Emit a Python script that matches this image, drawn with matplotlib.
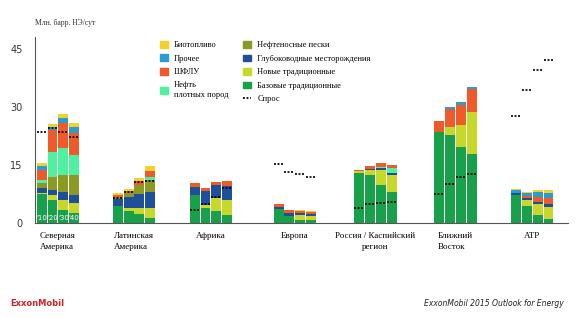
import matplotlib
matplotlib.use("Agg")
import matplotlib.pyplot as plt
from matplotlib.patches import Patch
from matplotlib.lines import Line2D
import numpy as np

regions = ["Северная\nАмерика", "Латинская\nАмерика", "Африка", "Европа",
           "Россия / Каспийский\nрегион", "Ближний\nВосток", "АТР"]
years = ["'10", "'20", "'30", "'40"]

# stack layers, млн барр. НЭ/сут, 4 years per region
base = [7.5, 6.0, 3.4, 2.6,   4.4, 3.2, 2.2, 1.4,   7.2, 3.8, 3.1, 2.1,
        3.5, 1.9, 0.9, 0.8,   13.0, 12.4, 9.7, 8.1,  23.6, 22.6, 19.5, 17.8,
        7.2, 4.4, 2.1, 1.0]
new_trad = [0.3, 1.2, 2.6, 2.6,   0.0, 0.6, 1.6, 2.4,   0.0, 0.8, 3.3, 3.9,
            0.0, 0.0, 1.2, 1.0,   0.3, 1.3, 4.0, 4.3,   0.0, 2.3, 5.8, 10.9,
            0.0, 1.6, 2.7, 3.2]
deepwater = [1.3, 1.4, 2.0, 2.0,   1.7, 3.0, 3.6, 4.3,   2.2, 3.7, 3.3, 3.6,
             0.7, 0.6, 0.6, 0.5,   0.0, 0.3, 0.4, 0.4,   0.0, 0.0, 0.0, 0.0,
             0.6, 0.4, 0.7, 0.6]
oil_sands = [1.3, 3.4, 4.4, 5.2,   0.6, 0.9, 2.4, 3.0,   0.0, 0.0, 0.0, 0.0,
             0.0, 0.0, 0.0, 0.0,   0.0, 0.0, 0.0, 0.0,   0.0, 0.0, 0.0, 0.0,
             0.0, 0.0, 0.0, 0.0]
tight_oil = [0.6, 6.2, 7.0, 5.2,   0.0, 0.0, 0.0, 0.9,   0.0, 0.0, 0.0, 0.0,
             0.0, 0.0, 0.0, 0.0,   0.0, 0.0, 0.4, 1.3,   0.0, 0.0, 0.0, 0.0,
             0.0, 0.0, 0.0, 0.0]
ngl = [2.7, 5.8, 6.4, 5.7,   0.6, 0.6, 1.0, 1.4,   0.9, 0.8, 1.0, 1.2,
       0.6, 0.9, 0.4, 0.6,   0.4, 0.8, 0.9, 0.9,   2.6, 4.5, 5.2, 5.8,
       0.0, 0.5, 1.3, 1.6]
other = [1.0, 0.9, 1.3, 1.5,   0.0, 0.0, 0.0, 0.0,   0.0, 0.0, 0.0, 0.0,
         0.0, 0.0, 0.0, 0.0,   0.0, 0.0, 0.0, 0.0,   0.0, 0.5, 0.6, 0.7,
         0.7, 0.9, 1.3, 1.4]
biofuel = [0.8, 0.7, 1.1, 1.0,   0.4, 0.5, 0.7, 1.4,   0.0, 0.0, 0.0, 0.0,
           0.0, 0.0, 0.2, 0.3,   0.0, 0.0, 0.0, 0.0,   0.0, 0.0, 0.0, 0.0,
           0.2, 0.2, 0.4, 0.7]
demand = [23.4, 24.4, 23.6, 22.2,   6.4, 7.9, 10.5, 10.8,   3.4, 4.9, 6.8, 9.0,
          15.1, 13.1, 12.7, 12.0,   3.8, 4.9, 5.1, 5.3,   7.4, 10.1, 12.0, 12.7,
          27.7, 34.4, 39.4, 42.1]

layers = [
    (base, "Базовые традиционные", "#18a04a"),
    (new_trad, "Новые традиционные", "#c6d82a"),
    (deepwater, "Глубоководные месторождения", "#1d4f9a"),
    (oil_sands, "Нефтеносные пески", "#8a9a22"),
    (tight_oil, "Нефть\nплотных пород", "#4ff0a0"),
    (ngl, "ШФЛУ", "#ee5a2a"),
    (other, "Прочее", "#2a9cd0"),
    (biofuel, "Биотопливо", "#f3d02a"),
]

fig = plt.figure(figsize=(5.78, 3.18), dpi=100)
ax = fig.add_axes([35 / 578, 1 - 223 / 318, 533 / 578, 186 / 318])

# group centres (the groups are not evenly spaced in the original)
centres = [0.0, 0.96, 1.93, 2.99, 4.01, 5.02, 5.99]
step = 0.136
width = 0.124
xs = np.array([c + (j - 1.5) * step for c in centres for j in range(4)])

bottom = np.zeros(len(xs))
for vals, name, col in layers:
    vals = np.array(vals)
    ax.bar(xs, vals, width, bottom=bottom, color=col, linewidth=0)
    bottom += vals

ax.hlines(demand, xs - width / 2, xs + width / 2, colors="black",
          linestyles=(0, (1.2, 0.9)), linewidth=1.2, zorder=3)

for j in range(4):
    ax.text(xs[j], 0.6, years[j], color="white", fontsize=5, ha="center",
            va="bottom")

ax.set_xlim(-0.29, 6.44)
ax.set_ylim(0, 48)
ax.set_yticks([0, 15, 30, 45])
ax.set_xticks([])
ax.tick_params(axis="y", length=0, pad=9, labelsize=7, labelcolor="#333333")
for s in ["top", "right"]:
    ax.spines[s].set_visible(False)
ax.spines["left"].set_color("#555555")
ax.spines["bottom"].set_color("#555555")
ax.spines["left"].set_linewidth(0.8)
ax.spines["bottom"].set_linewidth(0.8)

serif = "Liberation Serif"
for i, name in enumerate(regions):
    ax.text(centres[i], -2.2, name, ha="center", va="top", fontsize=6.5,
            family=serif, multialignment="center" if i == 4 else "left",
            linespacing=1.5)

fig.text(35 / 578, 1 - 23 / 318, "Млн. барр. НЭ/сут", fontsize=5.5,
         family=serif, color="#333333", va="center")

# legend in two columns
h1 = [Patch(color=layers[k][2], label=layers[k][1]) for k in [7, 6, 5, 4]]
h2 = [Patch(color=layers[k][2], label=layers[k][1]) for k in [3, 2, 1, 0]]
h2.append(Line2D([], [], color="black", linestyle=(0, (1, 1)), lw=1.3,
                 label="Спрос"))
common = dict(frameon=False, prop={"family": serif, "size": 6},
              handlelength=0.9, handleheight=0.9, handletextpad=0.8,
              labelspacing=0.62, borderaxespad=0, borderpad=0)
leg1 = fig.legend(handles=h1, loc="upper left",
                  bbox_to_anchor=(160 / 578, 1 - 41 / 318), **common)
leg2 = fig.legend(handles=h2, loc="upper left",
                  bbox_to_anchor=(243 / 578, 1 - 41 / 318), **common)

fig.text(10 / 578, 1 - 303 / 318, "ExxonMobil", color="#d0202a",
         fontweight="bold", fontsize=6, va="center")
fig.text(564 / 578, 1 - 304 / 318, "ExxonMobil 2015 Outlook for Energy",
         fontsize=5.5, style="italic", ha="right", va="center", color="#222222")

fig.savefig("out.png", dpi=100)
